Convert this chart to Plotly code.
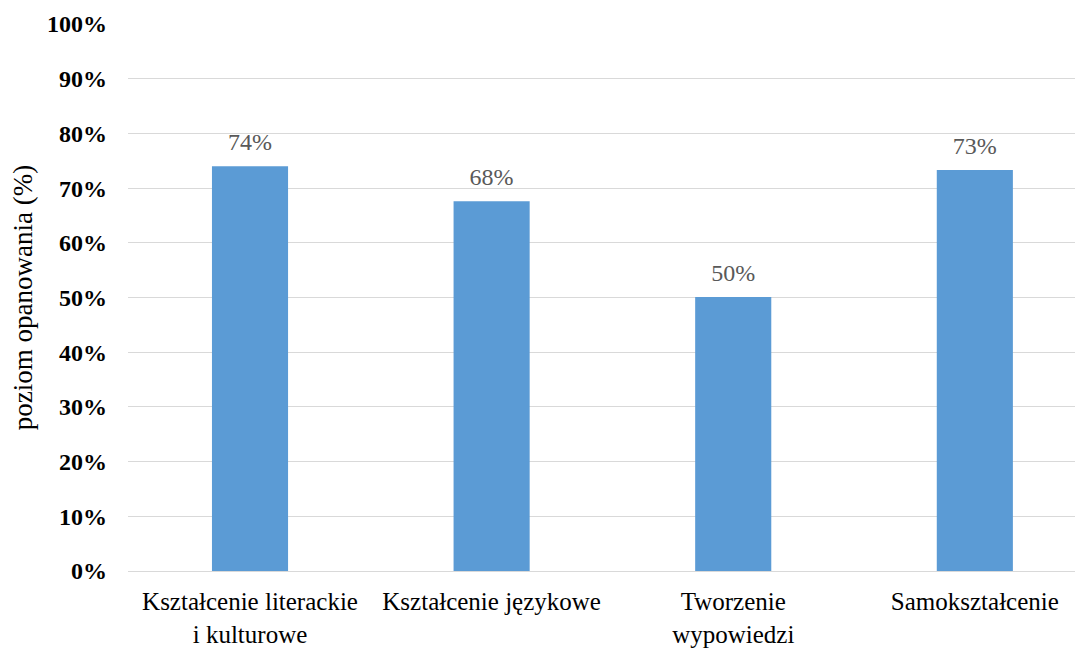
import plotly.graph_objects as go

categories = ["Kształcenie literackie<br>i kulturowe", "Kształcenie językowe",
              "Tworzenie<br>wypowiedzi", "Samokształcenie"]
values = [0.740, 0.676, 0.501, 0.733]
y_ticks = [i / 10 for i in range(11)]
y_tick_labels = [f"{i * 10}%" for i in range(11)]

serif = "Liberation Serif"
xs = list(range(len(categories)))

fig = go.Figure()
fig.add_trace(go.Bar(
    x=xs,
    y=values,
    width=0.315,
    marker=dict(color="#5b9bd5", line=dict(width=0)),
    hoverinfo="skip",
))
# data labels, placed above the bars with a little extra gap
fig.add_trace(go.Scatter(
    x=xs,
    y=values,
    mode="markers+text",
    marker=dict(size=14, color="rgba(0,0,0,0)"),
    texttemplate="%{y:.0%}",
    textposition="top center",
    textfont=dict(family=serif, size=24, color="#595959"),
    cliponaxis=False,
    hoverinfo="skip",
))

fig.update_layout(
    width=1083, height=649,
    margin=dict(l=120, r=13, t=16, b=86, autoexpand=False),
    paper_bgcolor="white", plot_bgcolor="white",
    showlegend=False,
    font=dict(family=serif),
    xaxis=dict(
        range=[-0.505, 3.427],
        tickmode="array", tickvals=xs, ticktext=categories,
        tickfont=dict(family=serif, size=25, color="#000000"),
        showgrid=False, showline=False, zeroline=False,
        ticks="", ticklabelstandoff=13,
    ),
    yaxis=dict(
        range=[0, 1.0],
        tickmode="array", tickvals=y_ticks, ticktext=y_tick_labels,
        tickfont=dict(family=serif, size=24, color="#000000", weight="bold"),
        showgrid=True, gridcolor="#d9d9d9", gridwidth=1,
        zeroline=True, zerolinecolor="#d9d9d9", zerolinewidth=1,
        showline=False, ticks="", ticklabelstandoff=20,
        title=dict(text="poziom opanowania (%)",
                   font=dict(family=serif, size=27, color="#000000"),
                   standoff=12),
    ),
)

fig.write_html("out.html")
